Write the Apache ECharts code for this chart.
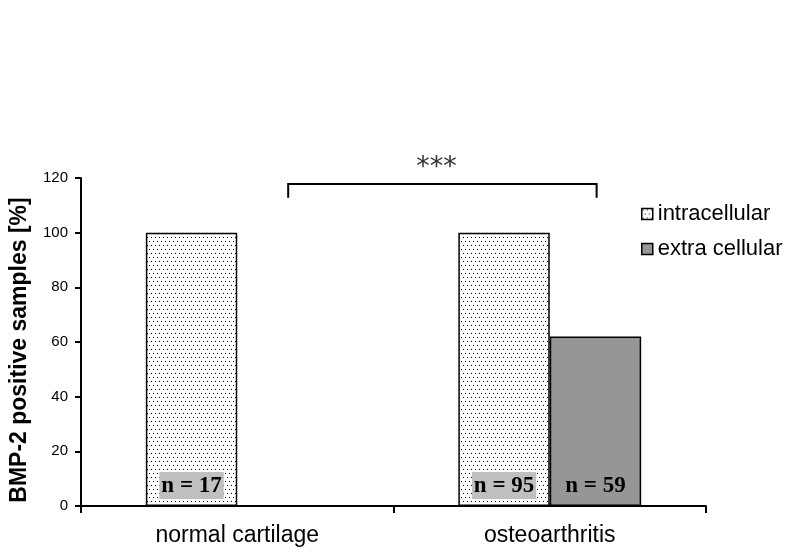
<!DOCTYPE html>
<html><head><meta charset="utf-8">
<script src="https://cdn.jsdelivr.net/npm/echarts@6/dist/echarts.min.js"></script>
<style>html,body{margin:0;padding:0;background:#fff}#c{width:786px;height:557px}</style>
</head><body><div id="c"></div>
<script>
const categories = ['normal cartilage', 'osteoarthritis'];
const intracellular = [100, 100];
const extracellular = [null, 62];
const nIntra = ['n = 17', 'n = 95'];
const nExtra = ['', 'n = 59'];
const yTicks = [0, 20, 40, 60, 80, 100, 120];
const significance = '***';

function dotPattern() {
  const c = document.createElement('canvas');
  c.width = 8; c.height = 8;
  const g = c.getContext('2d');
  g.fillStyle = '#ffffff'; g.fillRect(0, 0, 8, 8);
  g.fillStyle = '#000000';
  [[1,1],[5,1],[3,5],[7,5]].forEach(p => g.fillRect(p[0], p[1], 1, 1));
  return c;
}
const pattern = { image: dotPattern(), repeat: 'repeat' };

const chart = echarts.init(document.getElementById('c'), null, { renderer: 'canvas' });
const option = {
  animation: false,
  backgroundColor: '#fff',
  grid: { left: 78, right: 80, top: 178, bottom: 51 },
  legend: {
    orient: 'vertical', left: 636, top: 198, itemGap: 13,
    itemWidth: 11, itemHeight: 11, icon: 'rect',
    textStyle: { fontFamily: 'Liberation Sans, Arial', fontSize: 22, color: '#000' },
    data: [
      { name: 'intracellular', itemStyle: { color: pattern, borderColor: '#000', borderWidth: 1.5 } },
      { name: 'extra cellular', itemStyle: { color: '#969696', borderColor: '#000', borderWidth: 1.5 } }
    ]
  },
  xAxis: {
    type: 'category', data: categories,
    axisLine: { lineStyle: { color: '#000', width: 2 } },
    axisTick: { show: true, length: 7, lineStyle: { color: '#000', width: 2 } },
    axisLabel: { color: '#000', fontFamily: 'Liberation Sans, Arial', fontSize: 23, margin: 18 }
  },
  yAxis: {
    type: 'value', min: yTicks[0], max: yTicks[yTicks.length - 1], interval: 20,
    name: 'BMP-2 positive samples [%]', nameLocation: 'middle', nameGap: 50,
    nameTextStyle: { color: '#000', fontFamily: 'Liberation Sans, Arial', fontSize: 23, fontWeight: 'bold', padding: [0, 16, 0, 0] },
    axisLine: { show: true, lineStyle: { color: '#000', width: 2 } },
    axisTick: { show: true, length: 6, lineStyle: { color: '#000', width: 2 } },
    axisLabel: { color: '#000', fontFamily: 'Liberation Sans, Arial', fontSize: 15, margin: 13 },
    splitLine: { show: false }
  },
  series: [
    {
      name: 'intracellular', type: 'bar', barGap: '0%', barCategoryGap: '41.5%',
      data: intracellular,
      itemStyle: { color: pattern, borderColor: '#000', borderWidth: 1.5 },
      label: {
        show: true, position: 'insideBottom', distance: 7,
        formatter: p => nIntra[p.dataIndex],
        fontFamily: 'Liberation Serif, Times New Roman', fontWeight: 'bold', fontSize: 23, color: '#000',
        backgroundColor: '#c0c0c0', padding: [3, 2, 1, 2]
      }
    },
    {
      name: 'extra cellular', type: 'bar',
      data: extracellular,
      itemStyle: { color: '#969696', borderColor: '#000', borderWidth: 1.5 },
      label: {
        show: true, position: 'insideBottom', distance: 7,
        formatter: p => nExtra[p.dataIndex],
        fontFamily: 'Liberation Serif, Times New Roman', fontWeight: 'bold', fontSize: 23, color: '#000',
        padding: [3, 2, 1, 2]
      }
    }
  ]
};
chart.setOption(option);

// significance bracket, placed from the axes' own scales
const c0 = chart.convertToPixel({ xAxisIndex: 0 }, 0);
const c1 = chart.convertToPixel({ xAxisIndex: 0 }, 1);
const catW = c1 - c0;
const xL = c0 + catW * 0.163;
const xR = c1 + catW * 0.150;
const yTop = chart.convertToPixel({ yAxisIndex: 0 }, 117.8);
const yBot = chart.convertToPixel({ yAxisIndex: 0 }, 112.8);
chart.setOption({
  graphic: [
    { type: 'polyline', shape: { points: [[xL, yBot], [xL, yTop], [xR, yTop], [xR, yBot]] },
      style: { stroke: '#000', lineWidth: 2, fill: null } },
    { type: 'text', x: (xL + xR) / 2 - 6, y: yTop - 16,
      style: { text: significance, fontFamily: 'DejaVu Sans', fontSize: 27, fill: '#333', align: 'center', verticalAlign: 'middle' } }
  ]
});
</script></body></html>
